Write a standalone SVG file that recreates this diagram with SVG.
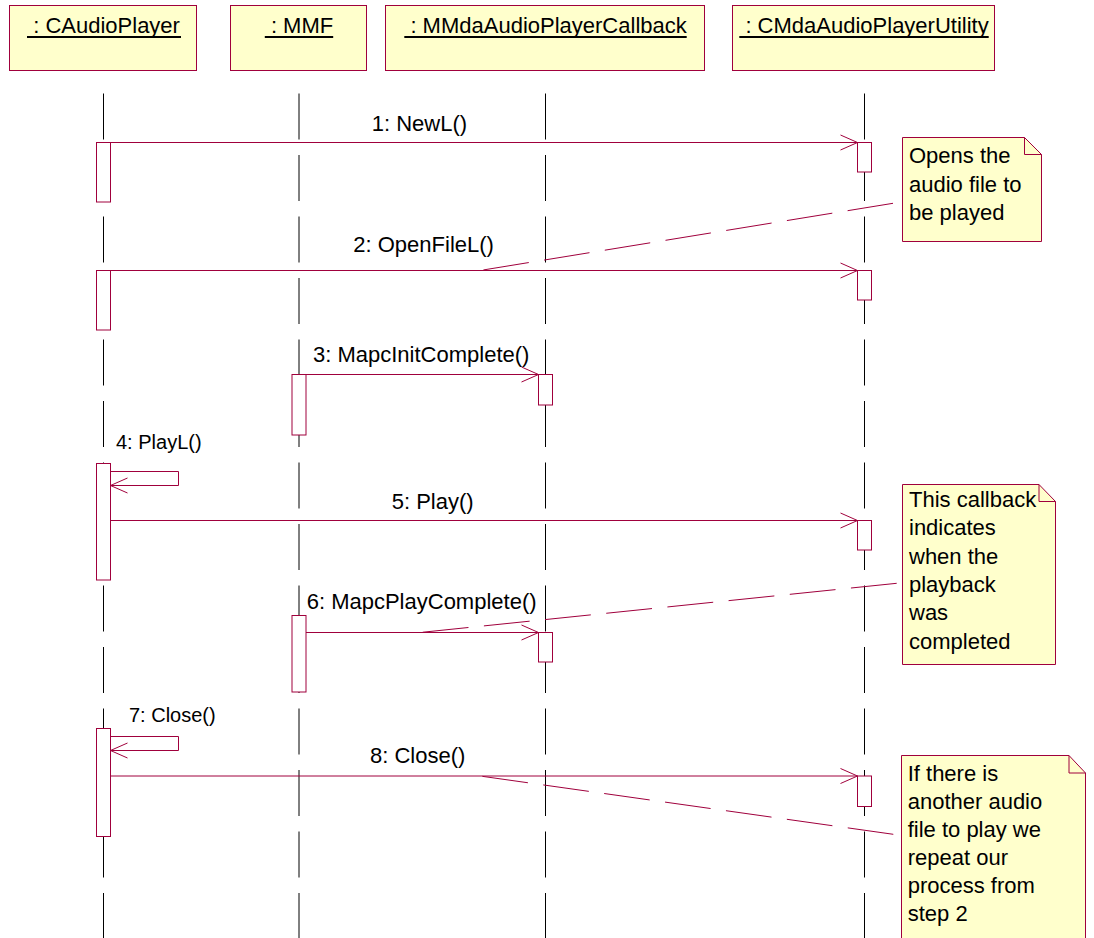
<svg xmlns="http://www.w3.org/2000/svg" width="1094" height="938" viewBox="0 0 1094 938">
  <style>
    .obj { fill: #FFFFCC; stroke: #A0003C; stroke-width: 1; }
    .act { fill: #FFFFFF; stroke: #A0003C; stroke-width: 1; }
    .life { stroke: #000000; stroke-width: 1; stroke-dasharray: 46 15.5; fill: none; }
    .uline { stroke: #000000; stroke-width: 2; }
    .msg { stroke: #A0003C; stroke-width: 1; fill: none; marker-end: url(#open); }
    .anchor { stroke: #A0003C; stroke-width: 1; fill: none; stroke-dasharray: 46 15.5; }
    .note { fill: #FFFFCC; stroke: #A0003C; stroke-width: 1; }
    .fold { fill: none; stroke: #A0003C; stroke-width: 1; }
    text { font-family: "Liberation Sans", Arial, sans-serif; fill: #000000; }
    .t22 { font-size: 22px; }
    .t20 { font-size: 20px; }
  </style>
  <defs>
    <marker id="open" viewBox="-18 -9 19 18" markerWidth="19" markerHeight="18" refX="0" refY="0" orient="auto" markerUnits="userSpaceOnUse">
      <path d="M-17,-7.5 L0,0 L-17,7.5" fill="none" stroke="#A0003C" stroke-width="1"/>
    </marker>
  </defs>

  <rect width="1094" height="938" fill="#FFFFFF"/>

  <!-- object: CAudioPlayer -->
  <g id="caudioplayer">
    <rect class="obj" x="9.5" y="5.5" width="187" height="65"/>
    <text class="t22" x="33.2" y="33">: CAudioPlayer</text>
    <line class="uline" x1="27" y1="37" x2="181" y2="37"/>
    <line class="life" x1="103.5" y1="93.5" x2="103.5" y2="938"/>
    <rect class="act" x="96.5" y="142.5" width="14" height="59.5"/>
    <rect class="act" x="96.5" y="270.5" width="14" height="59.5"/>
    <rect class="act" x="96.5" y="463.5" width="14" height="116.5"/>
    <rect class="act" x="96.5" y="728.5" width="14" height="108"/>
  </g>

  <!-- object: MMF -->
  <g id="mmf">
    <rect class="obj" x="230.5" y="5.5" width="136" height="65"/>
    <text class="t22" x="270.9" y="33">: MMF</text>
    <line class="uline" x1="264.8" y1="37" x2="333.2" y2="37"/>
    <line class="life" x1="299" y1="93.5" x2="299" y2="938"/>
    <rect class="act" x="292" y="374.5" width="14" height="60.5"/>
    <rect class="act" x="292" y="615.5" width="14" height="76.5"/>
  </g>

  <!-- object: MMdaAudioPlayerCallback -->
  <g id="callback">
    <rect class="obj" x="385.5" y="5.5" width="319" height="65"/>
    <text class="t22" x="410.4" y="33">: MMdaAudioPlayerCallback</text>
    <line class="uline" x1="404.3" y1="37" x2="686.7" y2="37"/>
    <line class="life" x1="545.5" y1="93.5" x2="545.5" y2="938"/>
    <rect class="act" x="538.5" y="374.5" width="14" height="30.5"/>
    <rect class="act" x="538.5" y="632.5" width="14" height="29.5"/>
  </g>

  <!-- object: CMdaAudioPlayerUtility -->
  <g id="utility">
    <rect class="obj" x="732.5" y="5.5" width="262" height="65"/>
    <text class="t22" x="745.4" y="33">: CMdaAudioPlayerUtility</text>
    <line class="uline" x1="739.3" y1="37" x2="988.7" y2="37"/>
    <line class="life" x1="864.5" y1="93.5" x2="864.5" y2="938"/>
    <rect class="act" x="857.5" y="142.5" width="14" height="29.5"/>
    <rect class="act" x="857.5" y="270.5" width="14" height="29.5"/>
    <rect class="act" x="857.5" y="520.5" width="14" height="29.5"/>
    <rect class="act" x="857.5" y="776" width="14" height="30.5"/>
  </g>

  <!-- notes -->
  <g id="note-open">
    <path class="note" d="M902.5,137.5 H1024.5 L1041.5,154.5 V241.5 H902.5 Z"/>
    <path class="fold" d="M1024.5,137.5 V154.5 H1041.5"/>
    <text class="t22" x="909" y="163">Opens the</text>
    <text class="t22" x="909" y="191.5">audio file to</text>
    <text class="t22" x="909" y="220">be played</text>
  </g>

  <g id="note-callback">
    <path class="note" d="M902.5,484.5 H1039 L1055.5,501.5 V664.5 H902.5 Z"/>
    <path class="fold" d="M1039,484.5 V501.5 H1055.5"/>
    <text class="t22" x="909" y="507">This callback</text>
    <text class="t22" x="909" y="535.3">indicates</text>
    <text class="t22" x="909" y="563.6">when the</text>
    <text class="t22" x="909" y="591.9">playback</text>
    <text class="t22" x="909" y="620.2">was</text>
    <text class="t22" x="909" y="648.5">completed</text>
  </g>

  <g id="note-repeat">
    <path class="note" d="M901.5,755.5 H1069 L1085.5,773 V945 H901.5 Z"/>
    <path class="fold" d="M1069,755.5 V773 H1085.5"/>
    <text class="t22" x="907.7" y="781">If there is</text>
    <text class="t22" x="907.7" y="809">another audio</text>
    <text class="t22" x="907.7" y="837">file to play we</text>
    <text class="t22" x="907.7" y="865">repeat our</text>
    <text class="t22" x="907.7" y="893">process from</text>
    <text class="t22" x="907.7" y="921">step 2</text>
  </g>

  <!-- messages and note anchors -->
  <g id="connectors">
    <line class="msg" x1="110.5" y1="142.5" x2="857.5" y2="142.5"/>
    <text class="t22" x="371.7" y="131">1: NewL()</text>

    <line class="msg" x1="110.5" y1="270.5" x2="857.5" y2="270.5"/>
    <text class="t22" x="353.3" y="252">2: OpenFileL()</text>

    <line class="msg" x1="306" y1="374.5" x2="538.5" y2="374.5"/>
    <text class="t22" x="313" y="362">3: MapcInitComplete()</text>

    <path class="msg" d="M110.5,471.5 H178.5 V485.5 H110.5"/>
    <text class="t20" x="116" y="449">4: PlayL()</text>

    <line class="msg" x1="110.5" y1="520.5" x2="857.5" y2="520.5"/>
    <text class="t22" x="391.7" y="508.5">5: Play()</text>

    <line class="msg" x1="306" y1="632.5" x2="538.5" y2="632.5"/>
    <text class="t22" x="306.7" y="609">6: MapcPlayComplete()</text>

    <path class="msg" d="M110.5,736.5 H178.5 V750.5 H110.5"/>
    <text class="t20" x="129" y="721.5">7: Close()</text>

    <line class="msg" x1="110.5" y1="776" x2="857.5" y2="776"/>
    <text class="t22" x="370" y="763">8: Close()</text>

    <path class="anchor" d="M893,203.3 L480,270.5"/>
    <path class="anchor" d="M896.7,583.3 L420,632.5"/>
    <path class="anchor" d="M893.3,834.3 L480,776"/>
  </g>
</svg>
